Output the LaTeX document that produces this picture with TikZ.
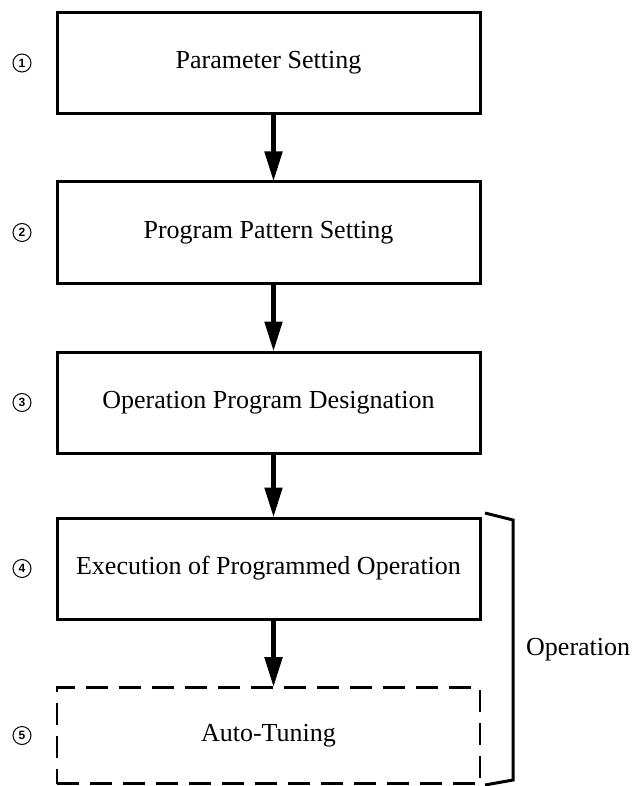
\documentclass[tikz,border=0pt]{standalone}
\usepackage{fontspec}
\setmainfont{Liberation Serif}
\setsansfont{Liberation Sans}
\usetikzlibrary{arrows.meta}
\begin{document}
\begin{tikzpicture}[x=1pt,y=-1pt,
  stepbox/.style={draw,line width=3pt,rectangle,minimum width=423pt,minimum height=101pt,
    inner sep=0pt,font=\fontsize{26}{26}\selectfont},
  dashbox/.style={stepbox,line width=2.6pt,dash pattern=on 22pt off 11pt,minimum height=96pt},
  numlabel/.style={circle,draw,line width=1pt,inner sep=0pt,minimum size=18pt,
    font=\sffamily\bfseries\fontsize{12}{12}\selectfont},
  flow/.style={line width=5pt,-{Triangle[length=30pt,width=17pt]},shorten >=-1pt},
  brace/.style={line width=3pt,line join=miter}]
  \useasboundingbox (0,0) rectangle (633,786);

  % process steps
  \node[stepbox] (s1) at (268.5,63)  {Parameter Setting};
  \node[stepbox] (s2) at (268.5,232.5) {Program Pattern Setting};
  \node[stepbox] (s3) at (268.5,402.5) {Operation Program Designation};
  \node[stepbox] (s4) at (268.5,568.5) {Execution of Programmed Operation};
  \node[dashbox] (s5) at (268.5,735.5) {Auto-Tuning};

  % step numbers
  \node[numlabel] (n1) at (22,63)  {1};
  \node[numlabel] (n2) at (22,232.5) {2};
  \node[numlabel] (n3) at (22,402.5) {3};
  \node[numlabel] (n4) at (22,568.5) {4};
  \node[numlabel] (n5) at (22,735.5) {5};

  % flow arrows
  \draw[flow] ([xshift=5pt]s1.south) -- ([xshift=5pt]s2.north);
  \draw[flow] ([xshift=5pt]s2.south) -- ([xshift=5pt]s3.north);
  \draw[flow] ([xshift=5pt]s3.south) -- ([xshift=5pt]s4.north);
  \draw[flow] ([xshift=5pt]s4.south) -- ([xshift=5pt]s5.north);

  % bracket grouping steps 4 and 5
  \coordinate (b1) at (485,513);
  \coordinate (b2) at (513,520);
  \coordinate (b3) at (513,780);
  \coordinate (b4) at (485,785);
  \draw[brace] (b1) -- (b2) -- (b3) -- (b4);
  \node[anchor=west,inner sep=0pt,font=\fontsize{26}{26}\selectfont] (op) at (526,650) {Operation};
\end{tikzpicture}
\end{document}
